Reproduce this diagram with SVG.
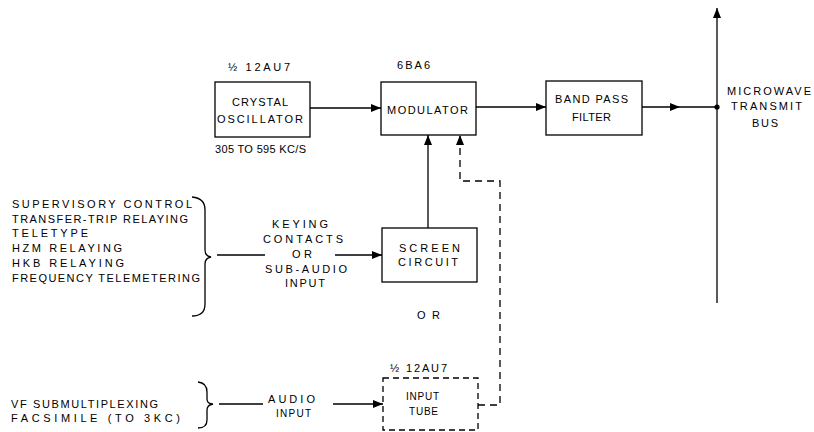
<svg xmlns="http://www.w3.org/2000/svg" width="814" height="432" viewBox="0 0 814 432">
<defs>
<marker id="ah" viewBox="0 0 10 8" refX="10" refY="4" markerWidth="10" markerHeight="8" markerUnits="userSpaceOnUse" orient="auto">
<path d="M0,0 L10,4 L0,8 Z" fill="#000"/>
</marker>
</defs>
<style>
text{font-family:"Liberation Sans","DejaVu Sans",sans-serif;font-size:11px;fill:#000}
.s{font-size:10px}
.box{fill:#fff;stroke:#000;stroke-width:1.3}
.dbox{fill:#fff;stroke:#000;stroke-width:1.3;stroke-dasharray:6,4}
.ln{fill:none;stroke:#000;stroke-width:1.3}
.dl{fill:none;stroke:#000;stroke-width:1.3;stroke-dasharray:7,5}
</style>
<rect width="814" height="432" fill="#fff"/>
<g id="connectors">
<path class="ln" d="M310,108 L381,108" marker-end="url(#ah)"/>
<path class="ln" d="M476,107 L546,107" marker-end="url(#ah)"/>
<path class="ln" d="M642,107 L680,107" marker-end="url(#ah)"/>
<path class="ln" d="M680,107 L717,107"/>
<path class="ln" d="M717,303 L717,8" marker-end="url(#ah)"/>
<circle cx="717" cy="107" r="2.6" fill="#000"/>
<path class="ln" d="M428,228 L428,135" marker-end="url(#ah)"/>
<path class="dl" d="M478,405 L500,405 L500,181 L460,181 L460,135" marker-end="url(#ah)"/>
<path class="ln" d="M217,255 L265,255"/>
<path class="ln" d="M335,255 L382,255" marker-end="url(#ah)"/>
<path class="ln" d="M219,404 L263,404"/>
<path class="ln" d="M333,404 L383,404" marker-end="url(#ah)"/>
<path class="ln" d="M192,197 Q205,198 205,210 L205,250 Q205,256 211,257 Q205,258 205,264 L205,304 Q205,316 192,316"/>
<path class="ln" d="M198,382 Q207,383 207,392 L207,399 Q207,404 213,404 Q207,405 207,410 L207,420 Q207,428 198,428"/>
</g>
<g id="crystal-oscillator">
<rect class="box" x="215" y="82" width="95" height="55"/>
<text x="228" y="71" textLength="62">½ 12AU7</text>
<text x="232" y="106" textLength="56">CRYSTAL</text>
<text x="217" y="123" textLength="86">OSCILLATOR</text>
<text x="215" y="153" textLength="91">305 TO 595 KC/S</text>
</g>
<g id="modulator">
<rect class="box" x="381" y="82" width="95" height="53"/>
<text x="397" y="69" textLength="33">6BA6</text>
<text x="387" y="114" textLength="81">MODULATOR</text>
</g>
<g id="band-pass-filter">
<rect class="box" x="546" y="81" width="96" height="54"/>
<text x="555" y="103" textLength="73">BAND PASS</text>
<text x="572" y="121" textLength="39">FILTER</text>
</g>
<g id="microwave-bus">
<text x="727" y="95" textLength="84">MICROWAVE</text>
<text x="731" y="110" textLength="71">TRANSMIT</text>
<text x="752" y="127" textLength="26">BUS</text>
</g>
<g id="screen-circuit">
<rect class="box" x="382" y="228" width="95" height="54"/>
<text x="399" y="252" textLength="61">SCREEN</text>
<text x="398" y="266" textLength="60">CIRCUIT</text>
</g>
<g id="input-tube">
<rect class="dbox" x="383" y="378" width="95" height="52"/>
<text x="390" y="372" textLength="57">½ 12AU7</text>
<text class="s" x="406" y="400" textLength="33">INPUT</text>
<text class="s" x="409" y="415" textLength="29">TUBE</text>
</g>
<g id="keying-label">
<text x="272" y="228" textLength="56">KEYING</text>
<text x="263" y="243" textLength="80">CONTACTS</text>
<text x="292" y="258" textLength="20">OR</text>
<text x="265" y="273" textLength="82">SUB-AUDIO</text>
<text x="285" y="287" textLength="40">INPUT</text>
</g>
<g id="or-label">
<text x="417" y="319" textLength="23">OR</text>
</g>
<g id="audio-label">
<text x="268" y="403" textLength="47">AUDIO</text>
<text class="s" x="276" y="417" textLength="35">INPUT</text>
</g>
<g id="signal-list">
<text x="12" y="208" textLength="180">SUPERVISORY CONTROL</text>
<text x="12" y="223" textLength="176">TRANSFER-TRIP RELAYING</text>
<text x="12" y="237" textLength="76">TELETYPE</text>
<text x="12" y="252" textLength="110">HZM RELAYING</text>
<text x="12" y="267" textLength="112">HKB RELAYING</text>
<text x="12" y="282" textLength="188">FREQUENCY TELEMETERING</text>
</g>
<g id="vf-list">
<text x="11" y="408" textLength="147">VF SUBMULTIPLEXING</text>
<text x="11" y="422" textLength="169">FACSIMILE (TO 3KC)</text>
</g>
</svg>
